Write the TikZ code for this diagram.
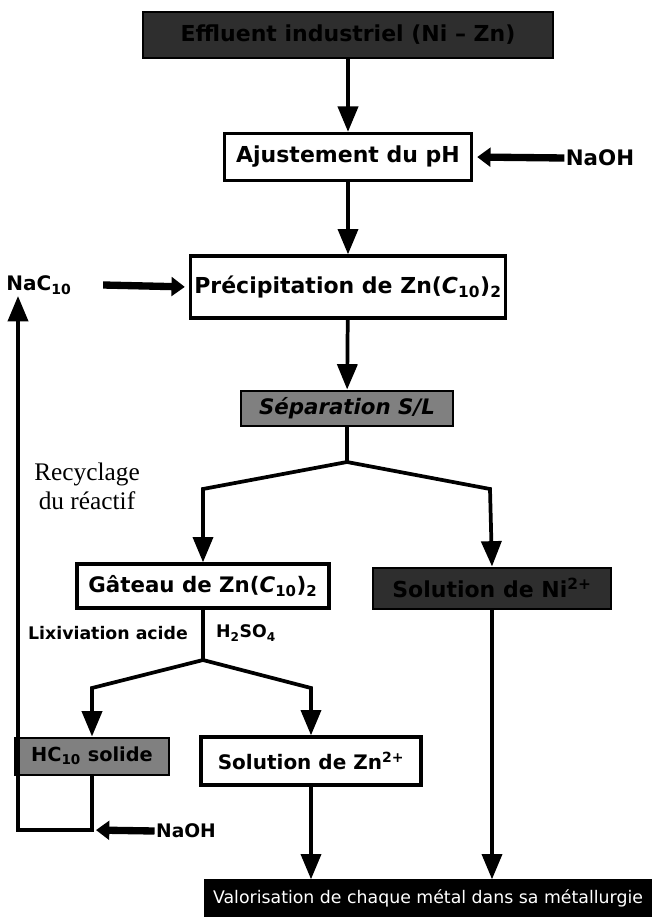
\documentclass[tikz,border=0pt]{standalone}
\usepackage{fontspec}
\setmainfont{DejaVu Sans}
\newfontfamily\serifrm{Liberation Serif}
\usetikzlibrary{arrows.meta}
\newdimen\U \U=0.75pt
\newcommand{\fs}[1]{\fontsize{#1}{#1}\selectfont}
\begin{document}
\begin{tikzpicture}[x=0.75pt,y=-0.75pt,
  whitebox/.style={draw=black,line width=2.5pt,fill=white,inner sep=0pt,font=\fs{16.5}\bfseries},
  darkbox/.style={draw=black,line width=1.5pt,fill=black!82,text=black,inner sep=0pt,font=\fs{16.5}\bfseries},
  graybox/.style={draw=black,line width=1.5pt,fill=black!50,text=black,inner sep=0pt,font=\fs{16}\bfseries},
  lbl/.style={inner sep=1pt,font=\fs{16}\bfseries},
  arr/.style={line width=2.8pt,-{Triangle[length=19pt,width=15pt]}},
  ln/.style={line width=2.8pt},
  blockarr/.style={line width=5.5pt,-{Triangle[length=10pt,width=14pt]},shorten >=3pt}
]
\useasboundingbox (0,0) rectangle (656,920);
% nodes
\node[darkbox,minimum width=410\U,minimum height=46\U] (top) at (348,35) {Effluent industriel (Ni -- Zn)};
\node[whitebox,minimum width=247\U,minimum height=47\U] (ajust) at (348,157) {Ajustement du pH};
\node[lbl] (naoh1) at (600,158) {NaOH};
\node[whitebox,minimum width=315\U,minimum height=62\U] (preci) at (348,287) {Précipitation de Zn(\textit{C}\textsubscript{10})\textsubscript{2}};
\node[lbl,font=\fs{15}\bfseries] (nac10) at (39,285) {NaC\textsubscript{10}};
\node[graybox,minimum width=212\U,minimum height=35\U] (sep) at (347,408) {\textit{Séparation S/L}};
\node[whitebox,minimum width=252\U,minimum height=44\U,font=\fs{16}\bfseries] (gateau) at (203,586) {Gâteau de Zn(\textit{C}\textsubscript{10})\textsubscript{2}};
\node[darkbox,minimum width=238\U,minimum height=41\U] (ni) at (492,588) {Solution de Ni\textsuperscript{2+}};
\node[font=\serifrm\fontsize{19}{22}\selectfont,align=center,inner sep=1pt] (recy) at (87,486) {Recyclage\\du réactif};
\node[lbl,font=\fs{13}\bfseries] (lix) at (108,633) {Lixiviation acide};
\node[lbl,font=\fs{13}\bfseries] (h2so4) at (246,633) {H\textsubscript{2}SO\textsubscript{4}};
\node[graybox,minimum width=154\U,minimum height=37\U,font=\fs{14.5}\bfseries] (hc) at (92,756) {HC\textsubscript{10} solide};
\node[whitebox,minimum width=220\U,minimum height=48\U,font=\fs{15}\bfseries] (znsol) at (311,761) {Solution de Zn\textsuperscript{2+}};
\node[lbl,font=\fs{14}\bfseries] (naoh2) at (186,831) {NaOH};
\node[draw=black,fill=black,text=white,line width=1pt,minimum width=446\U,minimum height=36\U,inner sep=0pt,font=\fs{13}] (valor) at (428,898) {Valorisation de chaque métal dans sa métallurgie};
% coordinates
\coordinate (s1) at (347,462);
\coordinate (sl) at (203,489);
\coordinate (sr) at (490,489);
\coordinate (g1) at (203,660);
\coordinate (gl) at (92,688);
\coordinate (gr) at (311,688);
\coordinate (loopB) at (18,830);
\coordinate (loopT) at (18,296);
\coordinate (naohtip) at (92,830);
% connectors
\draw[arr] (top) -- (ajust);
\draw[arr] (ajust) -- (preci);
\draw[arr] (preci) -- (sep);
\draw[ln] (sep.south) -- (s1);
\draw[arr] (s1) -- (sl) -- (gateau.north);
\draw[arr] (s1) -- (sr) -- (ni.north);
\draw[ln] (gateau.south) -- (g1);
\draw[arr] (g1) -- (gl) -- (hc.north);
\draw[arr] (g1) -- (gr) -- (znsol.north);
\draw[arr] (hc.south) |- (loopB) -- (loopT);
\draw[arr] (znsol.south) -- (znsol.south |- valor.north);
\draw[arr] (ni.south) -- (ni.south |- valor.north);
\draw[blockarr] (naoh1.west) -- (ajust.east);
\draw[blockarr] (nac10.east) ++(30,0) -- (preci.west);
\draw[blockarr] (naoh2.west) -- (naohtip);
\end{tikzpicture}
\end{document}
